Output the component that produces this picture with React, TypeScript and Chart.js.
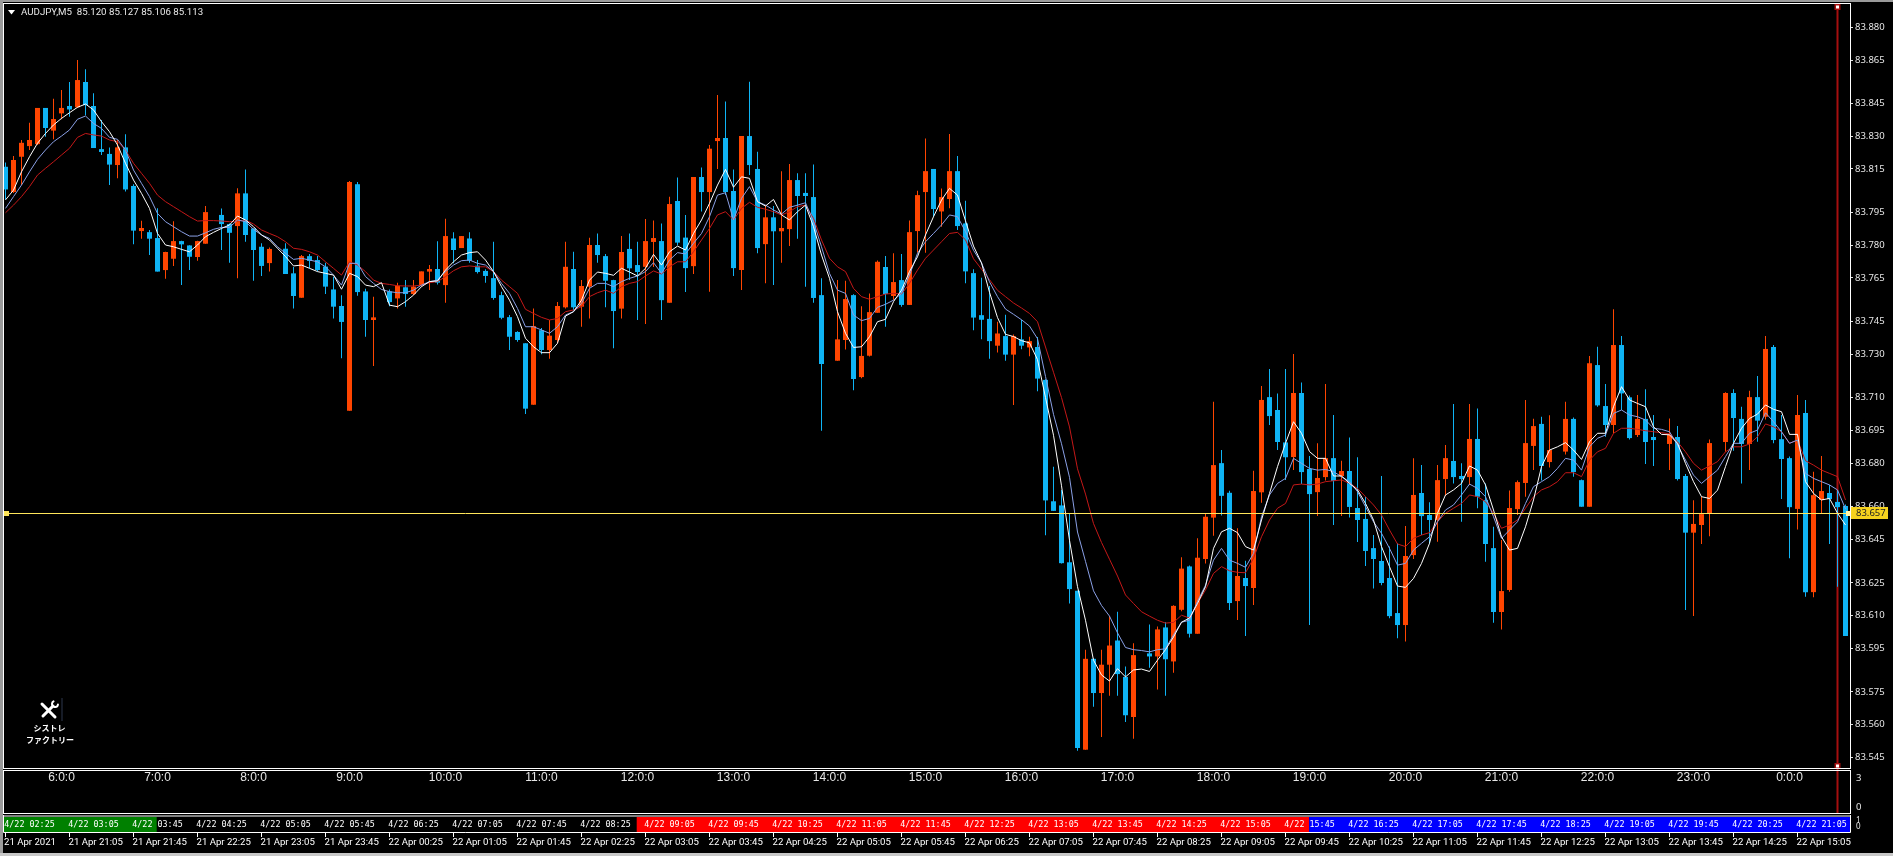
import React, { useEffect, useRef } from "react";
import { Chart, registerables } from "chart.js";

Chart.register(...registerables);

// All prices are written as thousandths above 83.000 (e.g. 816 = 83.816). null = doji bar drawn in the background colour.
const opens = [816,804.4,820.6,825.5,826.4,843,832.6,840.5,843.9,843.3,854.9,843.9,824.1,821.9,816.8,824.9,807.2,786.5,786,783.3,768.6,773.8,781.9,779.9,774.6,780.7,null,793.9,789.7,788.8,803.8,787.7,779.3,771.8,null,778.4,767.1,755.9,775,773.2,770.2,759.7,752.1,704,808,758.8,745.7,null,758.8,755.6,760.7,757.6,761.7,767.9,769.1,761.7,783.1,778.7,783.1,770.6,
768.2,764.9,757.1,747,740.2,735,706.8,741,731.9,736.5,751.5,769.1,751.8,761,780.1,775,764,750.9,778.3,770.9,770.1,781.5,781.9,753.6,800.3,783.5,770.4,811.3,804.4,827.8,829.2,804.9,768.6,830.1,815,780.5,792.8,786.4,787.4,809.9,804,802.1,757.1,null,727,736.5,757.1,719.5,729.3,749,770,756.7,764,752.6,786.5,804.4,815,795.5,801.2,814,
790,767.2,747.9,746.2,733.9,738.3,729.8,736.8,733.1,733.3,718.2,662.5,660.6,634.5,621.4,548.5,590.2,574.5,587.5,598.6,581.9,563.5,null,592.7,591.3,604.6,589,612.7,632.6,601.7,636,655,680,666.4,616.7,627.3,622.7,666.6,710.3,704.4,689.5,682.8,712.2,677.3,666.7,673.6,682.3,674.1,676.4,659.4,654.4,641,635.1,627.3,611.2,605.7,637.8,666.3,656.2,653.9,672.7,681,674.1,673.6,691.1,663.1,641,611.7,621.8,658.9,670.9,687.9,698,680.5,null,685.3,700.3,672.2,660,725,706.2,697.5,734.2,710.2,692.9,700.3,692,null,688.8,692,674.1,648.1,651.6,657,null,689.7,712.2,700.3,688.8,710.3,701.3,733.3,691,682.3,659,703,620.8,663.1,666.3,662.2,660.3];
const highs = [818,821,828.3,836.2,843,843,847.2,851.2,854.9,865,860.7,849.7,837.5,824.9,828.3,830.9,808,791.2,787,797,777,791,782,780,782,798,null,796.9,790,806.1,814.8,787.7,780.9,779,null,780.9,770,775.5,776,775,772,765.5,757.1,809.5,809,760,756.4,null,759.7,762.8,764,764,768,770.9,781.8,792.2,786,784.2,786,773.2,
769,781.6,758.7,748,740.5,735,751,742,745.7,754,781.6,777,764,783.4,785.4,776,764.2,784.2,785.4,781.6,792,791.3,790,802.3,811.1,793.9,811.3,815.7,826,848.9,845.9,814.8,830.1,855,822.9,798.4,798,814,817.3,813,813,817.1,764.8,null,764,763.7,757.5,752,757.9,773,775,776.3,776,791.3,805,829,815,806,831,821,
800.4,769,765.1,761.3,744.9,748.1,739,745.8,738,737.9,718.5,678.3,667.7,657,621.4,594.4,590.5,594.4,609.8,611.8,586.7,597.3,null,606,605,607,614.8,636.8,633,645.5,657,708.2,686,667.3,650.1,635.2,676.5,715.4,723.2,712,723.2,730.1,717,683.3,689.1,716.3,702.1,681.1,691.8,682.7,664.6,647,674.1,641.7,643.2,651.1,682.2,679.1,662,679.1,688.3,707.1,679.9,707.1,705.1,670.7,650.8,644.7,667.4,672,709,700.4,701.3,702,null,708.2,701,672.5,729.2,733.4,716.3,750.6,738.3,711,711.3,713.9,702.1,null,700.5,697,675,663,664.6,690.9,null,712.5,713.9,705.9,713.2,720,738.3,734.2,702.1,683,711.3,709,676,683.3,670,667.7,661];
const lows = [801,804,807.6,823.7,826,829.8,828.6,837.8,839,843,839.7,824.6,821.4,807.6,810.7,804.6,780.5,783,775.5,767.9,764.6,770.5,761.7,768.6,772.9,780.7,null,777.8,772,764.8,781.6,763.7,765.9,767.9,null,766.8,751,755.9,769.4,768,757.6,746.4,728.1,704,756.8,738,724.6,null,752,751,751.8,757,761,759.4,762,753.6,771.7,778.7,772,767,
762.8,755,746,731.9,735.7,702.5,706.8,730,727.9,735,751,750,742.6,746.4,772,751.5,732.7,746.4,764,745.7,743.8,770,745.7,753.6,780,758.5,766.8,795.5,758.7,815,803,765.9,759.4,812.2,776.3,762.5,761.7,772,779.6,783,761,753.6,694.9,null,727,732.2,713.5,718.9,728.9,749,742.6,755,751.8,752.6,776.7,776.6,793,788.5,797,787,
762.6,741,736.8,727.9,730.8,727,706.7,732.3,729,713,646.9,658,634,615.6,548,548.5,568.2,554.3,573.2,573.2,561.2,553.5,null,586.1,576.1,573.2,583.8,612,600,601.7,634,646.7,656,612.6,608,600.7,614.9,661.8,697.5,686,672.3,676.8,670.4,605.7,655.7,672,651.6,655.7,655,643.8,632.8,622.5,624,608.8,599.6,598.1,636,647,643,643.9,665,670.7,653.1,670,659.3,634.8,606.8,603.7,621,656.2,664.6,676.8,672,678,null,684,673.8,660,660,705.9,692.1,693.7,704.4,690.9,692,679.6,678.7,null,676.8,672,612.6,609.8,642.9,646.5,null,685.2,685.7,670.7,676.8,689.8,700,689.1,663.5,636.3,649.6,618.7,618.4,657,642.9,623.3,600.7];
const closes = [805.6,819.1,827,828.3,843,833.8,837.9,843,842.3,855.8,844.3,824.6,822.8,817,824.9,805.6,786.7,787.9,783,767.9,776.9,781.9,780.4,774.7,781.9,795.2,null,789.7,785.7,803.8,784.7,777.8,770.5,778.3,null,766.8,756.7,775,772.8,768.6,761,751.8,744.8,809,758.5,745.7,746.9,null,753.9,761.4,757.6,761,768,769.1,762.8,784.2,777.8,784.2,772.9,767.7,
765.9,755.8,746.7,738,736.5,705,742.9,731.9,738.5,752.1,770.1,751.5,761.3,780.1,775.5,763.7,749.8,776.9,769.4,767.7,781.9,783.3,754.8,798.9,781.2,769.5,811.3,804.4,824.3,829.2,804.4,769.5,830.1,816.8,778.7,792.8,786.4,787.9,809.9,802.6,802.6,755.8,725.5,null,736.8,755.3,718.6,729.2,749.3,772.4,757.6,763.1,752.6,786,803,814,796.6,802.1,814,788.8,
768,746.8,745.8,736,739.5,729.8,738.3,733.9,736,718.8,662.9,658.1,634.1,622.2,549.3,590.2,574.5,587.5,596.3,583.2,564.3,591.9,null,591.3,603.7,590,614.5,631.6,601.7,636.6,655.4,679.1,665,615.8,628.2,623.6,667.2,709,701.6,689.7,682.7,712.2,675.9,665.8,673.2,682.3,671.8,676.4,659.9,653.9,639.7,636,625,609.8,605.7,637.4,665.4,655.7,653.9,672.2,682.3,673.6,672.7,691.1,664.6,642.9,611.7,621.3,659.4,671.3,689.2,697,678.7,686,null,700.3,675.9,660,725.8,706.5,697.5,734.2,712,691.5,700.3,689.7,690.6,null,693,672.7,648.1,652.1,656.6,689.2,null,712.2,700.7,688.8,710.3,699.5,732.4,690.6,681.9,659.8,702.1,620.8,665.3,667.2,663.5,659.8,600.7];

const maFast = [800.8,805.3,813.7,820.6,826.8,831.3,835.2,838.2,840.8,843.3,844.8,842.1,836.7,832.1,826,817.6,809.9,803.8,796.9,785.4,780.1,779.3,778.1,777,780.1,783.9,785.9,787.7,789.3,793.4,791.6,788.5,784.7,782.4,778.6,774.8,770.5,770.9,769.4,767.9,767.1,766.3,759.8,767.1,765.6,761.7,761,762.8,752.5,751.8,754.1,757.1,761,763.3,763.6,768.6,772.4,775.5,776.6,777,
773.2,767.9,761,754.8,747.2,737.3,733.4,730.7,730.7,735,747.5,749.5,754.8,764,767.7,767.1,766.2,769.4,767.7,765.9,769.4,775.8,770.9,777,779.6,777.8,785.4,791.6,799.2,807.6,814.8,806.6,811.4,810.7,800,798,801,793.9,791.6,795.4,798.4,788.5,775.5,764.8,749.5,739.6,733.1,733.4,738,744.9,746,754.1,759.4,767.9,774.7,784.7,793.1,800.7,806.1,803,
791.2,779.6,771.9,758.4,746.8,739.1,738.1,736.2,735.2,727.5,710.1,692.8,669.6,644.6,623.3,607.9,589.6,582.8,580,585.7,581.9,585.1,585.5,584.4,589.6,594.4,600.2,607,608.9,615.6,623.3,640.9,648.5,650.1,648.1,641.7,640.1,653.9,666.1,678.4,689.1,699,693.7,685.3,682.2,682.2,674.1,674.1,670.7,667.7,661.5,653.9,641.7,632.5,623.6,623,627.1,634,643.2,657,665.4,667.7,670.7,678.7,676.8,670,658.5,646.2,640.1,640.9,650.8,663.1,678.4,686,687.5,689.4,686,681.7,689.8,693.7,693.7,705.9,715.1,709,707.4,705.9,696.7,693.2,693,689.1,679.9,671.5,664.6,663.8,667.6,678.4,689.1,696,700.5,702.5,706.7,704.7,703.6,693.2,693.2,671.5,666.1,663.1,663.8,657,651.6];
const maMid = [796.9,802.3,807.6,813.7,819.4,823.7,827.5,830.1,832.9,837.8,839.3,835.9,833.6,829.5,828.6,823.7,814.5,808.4,802.3,794.6,790.8,788.5,786.2,784.2,784.2,785.7,787.3,788.2,788.2,791.6,790.8,787.3,784.7,783.1,779.3,776.3,773.5,774,773.2,772.4,770.1,766.3,761.7,771.7,771.7,765.6,762.5,759.7,758.7,758.2,758.2,759.4,761.7,763.3,764,767.9,770.9,772.9,773.2,771.7,
770.9,767.9,762.5,757.9,751,742.6,742.6,741.1,739.6,742.6,748,749.5,753.3,760.2,762.5,762.5,761,763.3,764.8,765.9,767.9,772,767.1,773.2,776.6,776,780.9,785.4,793.1,803,804.1,791.6,801.5,806.9,800,798.4,796.2,794.3,797.4,798.4,799.5,790.8,779.3,767.1,759.4,757.9,748,745.4,746.4,751.5,752.9,754.8,757.9,766.3,776.3,781.6,785.4,789.3,793.9,793.1,
786.3,777.7,771.9,763.2,756.4,750.7,748.3,745.8,742.9,737.1,719.8,702.4,688.9,673.5,648.4,634.9,621.4,614.7,609.8,602.1,595.4,594.4,594,593.4,594.4,594.8,601.2,607,607.9,616.6,624,635.5,640.9,635.5,634,632.2,638.6,655.4,665.4,670.7,673,682.2,679.9,677.6,676.8,677.1,676.1,673.8,671.5,666.9,660,653.1,647.8,640.9,633.2,634,640.1,643.2,646.2,653.1,658.5,660.8,665.4,670.4,668.4,664.6,655.4,645.5,649.3,653.1,661.5,669.2,671.5,673.8,677.6,682.2,681.4,676.8,687.5,691.4,692.9,702.8,704.4,702.1,701.3,699.8,696,695.5,694.4,688.3,681.4,674.5,670.7,673.8,676.8,683,689.1,689.1,693.7,695.2,703.1,699,694.4,689.1,690.6,675.3,673,671.5,670,667.7,659];
const maSlow = [794.9,798.4,802.3,806.9,812.2,815.3,818.3,821.4,824.5,829.5,831.3,830.6,830.1,828.3,827.5,823.7,817.6,813,808.4,803,800,797.7,795.4,793.1,791.1,791.3,791.3,791.1,790.8,791.1,791.6,789.7,787,785.4,783.9,781.6,778.6,778.1,777,775.5,772.4,769.4,766.3,772.4,770.9,767.9,764,762.5,762,761.4,761.3,761.3,761.7,762.8,763.3,765.6,768.3,770.1,770.5,770.1,
770.1,767.9,764,761,757.9,750.6,748.7,746.9,745.7,746.4,749.5,750.3,751.8,756.4,758.2,759.4,757.9,761,762.5,763.3,765.9,768.2,766.8,770.1,772.4,772.4,777,782.4,787.7,793.9,795.4,791.6,796.9,799.7,797.4,796.5,795.4,793.9,795.4,797.7,798.4,792.3,782.4,774,770.1,767.9,760.2,756.4,755.2,756.4,757.6,757.9,757.6,762.5,768.6,774,777.8,781.6,785.4,785.9,
782.5,773.8,769,764.2,759.3,756.4,753.5,751.2,748.7,744.9,733.3,721.7,710.1,696.6,677.4,665.8,652.3,643.6,635.9,628.2,619.5,615.6,611.8,609.8,607.9,606.6,606.9,610.2,608.9,615.6,621.8,629.4,632.5,630.6,629.9,629.7,636.3,646.2,653.9,659.3,661.5,670,670.4,670,670.4,671.5,671.9,672.3,670.7,668.4,664.6,660.8,656.2,649.3,642.9,641.7,645.5,647,648.1,653.1,657,659.3,661.5,665.4,664.6,662.3,657,650.1,651.6,653.9,659.3,664.6,667.7,669.2,671.5,675.6,675.6,673.8,681.4,685.2,686.8,693.7,696,696,695.5,694.9,694.4,694,693.4,689.8,685.2,679.9,676.8,678.7,680.7,685.2,687.5,687.5,688.8,692.1,698,696.7,694.4,689.1,690.6,681.1,679.1,676.8,675.3,673.8,663.1];

const priceTicks = [880,865,845,830,815,795,780,765,745,730,710,695,680,660,645,625,610,595,575,560,545];
const currentPrice = 657;
const hourLabels = ["6:0:0","7:0:0","8:0:0","9:0:0","10:0:0","11:0:0","12:0:0","13:0:0","14:0:0","15:0:0","16:0:0","17:0:0","18:0:0","19:0:0","20:0:0","21:0:0","22:0:0","23:0:0","0:0:0"];
const stripLabels = ["4/22 02:25","4/22 03:05","4/22 03:45","4/22 04:25","4/22 05:05","4/22 05:45","4/22 06:25","4/22 07:05","4/22 07:45","4/22 08:25","4/22 09:05","4/22 09:45","4/22 10:25","4/22 11:05","4/22 11:45","4/22 12:25","4/22 13:05","4/22 13:45","4/22 14:25","4/22 15:05","4/22 15:45","4/22 16:25","4/22 17:05","4/22 17:45","4/22 18:25","4/22 19:05","4/22 19:45","4/22 20:25","4/22 21:05"];
const timeLabels = ["21 Apr 2021","21 Apr 21:05","21 Apr 21:45","21 Apr 22:25","21 Apr 23:05","21 Apr 23:45","22 Apr 00:25","22 Apr 01:05","22 Apr 01:45","22 Apr 02:25","22 Apr 03:05","22 Apr 03:45","22 Apr 04:25","22 Apr 05:05","22 Apr 05:45","22 Apr 06:25","22 Apr 07:05","22 Apr 07:45","22 Apr 08:25","22 Apr 09:05","22 Apr 09:45","22 Apr 10:25","22 Apr 11:05","22 Apr 11:45","22 Apr 12:25","22 Apr 13:05","22 Apr 13:45","22 Apr 14:25","22 Apr 15:05"];
const stripSegments: [number, number, string][] = [[-0.1875,18.9,"#008000"],[78.9,162.95,"#ff0000"],[162.95,230.56,"#0000ff"]];
const headerText = "AUDJPY,M5  85.120 85.127 85.106 85.113";
const logoLines = ["シストレ","ファクトリー"];

const UP = "#ff4500";
const DOWN = "#0fb4f5";
const toPrice = (v: number) => 83 + v / 1000;

const candleIdx = opens.map((v, i) => (v === null ? -1 : i)).filter((i) => i >= 0);
const candleColors = candleIdx.map((i) => ((closes[i] as number) > (opens[i] as number) ? UP : DOWN));
const lineData = (arr: number[]) => arr.map((v, i) => ({ x: i, y: toPrice(v) }));

const overlay = {
  id: "mt4Overlay",
  beforeDraw(chart: any) {
    const c = chart.ctx;
    c.save();
    c.fillStyle = "#000";
    c.fillRect(0, 0, 1893, 856);
    c.restore();
  },
  beforeDatasetsDraw(chart: any) {
    const c = chart.ctx;
    const xs = chart.scales.x;
    const sepX = Math.round(xs.getPixelForValue(229) - 0.5);
    c.save();
    c.fillStyle = "#a50f0f";
    c.fillRect(sepX - 0.5, 4, 2, 809);
    c.restore();
  },
  afterDraw(chart: any) {
    const c = chart.ctx;
    const xs = chart.scales.x;
    const ys = chart.scales.y;
    const sepX = Math.round(xs.getPixelForValue(229) - 0.5);
    c.save();
    // window chrome
    c.fillStyle = "#9a9a9a";
    c.fillRect(0, 0, 1893, 2);
    c.fillRect(0, 0, 3, 856);
    c.fillStyle = "#c8c8c8";
    c.fillRect(0, 853, 1893, 3);

    // current price line
    const py = Math.floor(ys.getPixelForValue(toPrice(currentPrice))) + 0.5;
    c.strokeStyle = "#ffe65a";
    c.lineWidth = 1;
    c.beginPath(); c.moveTo(4, py); c.lineTo(1850, py); c.stroke();
    c.fillStyle = "#ffe65a";
    c.fillRect(4, py - 2.5, 5, 5);
    c.fillStyle = "#fff6a8";
    c.fillRect(1846, py - 2.5, 5, 5);

    // price tag
    c.fillStyle = "#f5d21e";
    c.fillRect(1851, py - 6.5, 37, 12);
    c.fillStyle = "#222";
    c.font = "9.5px 'Noto Sans'";
    c.textBaseline = "middle";
    c.textAlign = "left";
    c.fillText((83 + currentPrice / 1000).toFixed(3), 1856, py);

    // separator handles
    for (const hy of [7, 766]) {
      c.fillStyle = "#a50f0f";
      c.fillRect(sepX - 2.5, hy - 3, 6, 6);
      c.fillStyle = "#fff";
      c.fillRect(sepX - 1, hy - 1.5, 3, 3);
    }

    // strip panel
    c.fillStyle = "#808080";
    c.fillRect(4, 815, 1846, 2);
    for (const [a, b, col] of stripSegments) {
      const xa = Math.max(4, xs.getPixelForValue(a));
      const xb = Math.min(1850, xs.getPixelForValue(b));
      c.fillStyle = col;
      c.fillRect(xa, 817, xb - xa, 15);
    }
    c.fillStyle = "#fff";
    c.font = "8.4px 'DejaVu Sans Mono'";
    c.textAlign = "center";
    c.textBaseline = "middle";
    stripLabels.forEach((t, i) => c.fillText(t, xs.getPixelForValue(8 * i + 3), 824.5));

    // frames
    c.strokeStyle = "#fff";
    c.lineWidth = 1;
    c.strokeRect(3.5, 3.5, 1847, 765);
    c.strokeRect(3.5, 770.5, 1847, 43);
    c.beginPath();
    c.moveTo(3.5, 815); c.lineTo(3.5, 832.5); c.lineTo(1850.5, 832.5); c.lineTo(1850.5, 815);
    c.stroke();

    // hour labels
    c.fillStyle = "#e6e6e6";
    c.font = "12px 'Liberation Sans'";
    hourLabels.forEach((t, i) => c.fillText(t, xs.getPixelForValue(7 + 12 * i), 778));

    // time axis
    c.textAlign = "left";
    c.font = "9.6px Roboto";
    c.strokeStyle = "#fff";
    timeLabels.forEach((t, i) => {
      const x = Math.round(xs.getPixelForValue(8 * i) - 0.5) + 0.5;
      c.beginPath(); c.moveTo(x, 833); c.lineTo(x, 837); c.stroke();
      c.fillStyle = "#fff";
      c.fillText(t, i === 0 ? 4 : x - 1, 843);
    });

    // sub-panel scales
    c.fillStyle = "#e6e6e6";
    c.font = "9.5px 'Noto Sans'";
    c.fillText("3", 1856, 778);
    c.fillText("0", 1856, 807);
    c.font = "8px 'Noto Sans'";
    c.fillText("1", 1856, 821);
    c.fillText("0", 1856, 827);

    // header
    c.fillStyle = "#fff";
    c.beginPath(); c.moveTo(8, 10); c.lineTo(15, 10); c.lineTo(11.5, 14.5); c.closePath(); c.fill();
    c.fillStyle = "#e8e8e8";
    c.font = "9.7px Roboto";
    c.fillText(headerText, 21, 12.5);

    // logo
    c.strokeStyle = "#fff";
    c.lineCap = "round";
    c.lineWidth = 3;
    c.beginPath(); c.moveTo(42, 704); c.lineTo(55, 717); c.stroke();
    c.beginPath(); c.moveTo(43, 716); c.lineTo(53, 706); c.stroke();
    c.lineWidth = 2;
    c.beginPath(); c.arc(55, 704, 3, 0.2, 4.2); c.stroke();
    c.fillStyle = "#161b26";
    c.fillRect(61, 698, 2, 23);
    c.fillStyle = "#fff";
    c.textAlign = "center";
    c.font = "bold 8px 'Noto Sans CJK JP'";
    c.fillText(logoLines[0], 49.5, 728);
    c.fillText(logoLines[1], 50, 739.5);
    c.restore();
  },
};

export default function App() {
  const ref = useRef<HTMLCanvasElement>(null);
  useEffect(() => {
    document.body.style.margin = "0";
    document.body.style.background = "#000";
    const chart = new Chart(ref.current as HTMLCanvasElement, {
      type: "bar",
      data: {
        datasets: [
          {
            type: "line", data: lineData(maSlow as number[]), borderColor: "#c41818", borderWidth: 1,
            pointRadius: 0, tension: 0, order: 3,
          },
          {
            type: "line", data: lineData(maMid as number[]), borderColor: "#8aa0e6", borderWidth: 1,
            pointRadius: 0, tension: 0, order: 2,
          },
          {
            type: "line", data: lineData(maFast as number[]), borderColor: "#ffffff", borderWidth: 1,
            pointRadius: 0, tension: 0, order: 1,
          },
          {
            type: "bar",
            data: candleIdx.map((i) => ({ x: i, y: [toPrice(lows[i] as number), toPrice(highs[i] as number)] })),
            backgroundColor: candleColors, barThickness: 1, grouped: false, inflateAmount: 0, order: 6,
          },
          {
            type: "bar",
            data: candleIdx.map((i) => ({ x: i, y: [toPrice(opens[i] as number), toPrice(closes[i] as number)] })),
            backgroundColor: candleColors, barThickness: 5, grouped: false, inflateAmount: 0, order: 5,
          },
        ] as any,
      },
      options: {
        animation: false,
        responsive: false,
        devicePixelRatio: 1,
        layout: { padding: { left: 4, top: 4, right: 0, bottom: 88 } },
        plugins: { legend: { display: false }, tooltip: { enabled: false } },
        events: [],
        scales: {
          x: { type: "linear", display: false, min: -0.1875, max: 230.5625, offset: false },
          y: {
            position: "right",
            min: 83.5401,
            max: 83.8907,
            border: { display: false },
            grid: { drawOnChartArea: false, drawTicks: true, tickLength: 3, color: "#dddddd", tickWidth: 1 },
            ticks: {
              autoSkip: false, padding: 2, color: "#e6e6e6",
              font: { family: "'Noto Sans'", size: 9.5 },
              callback: (v: any) => Number(v).toFixed(3),
            },
            afterBuildTicks: (axis: any) => {
              axis.ticks = priceTicks.map((v) => ({ value: toPrice(v) }));
            },
            afterFit: (axis: any) => {
              axis.width = 43;
              axis.paddingTop = 0;
              axis.paddingBottom = 0;
            },
          },
        },
      } as any,
      plugins: [overlay],
    });
    return () => chart.destroy();
  }, []);
  return (
    <canvas
      ref={ref}
      width={1893}
      height={856}
      style={{ position: "absolute", left: 0, top: 0, display: "block", width: 1893, height: 856 }}
    />
  );
}
